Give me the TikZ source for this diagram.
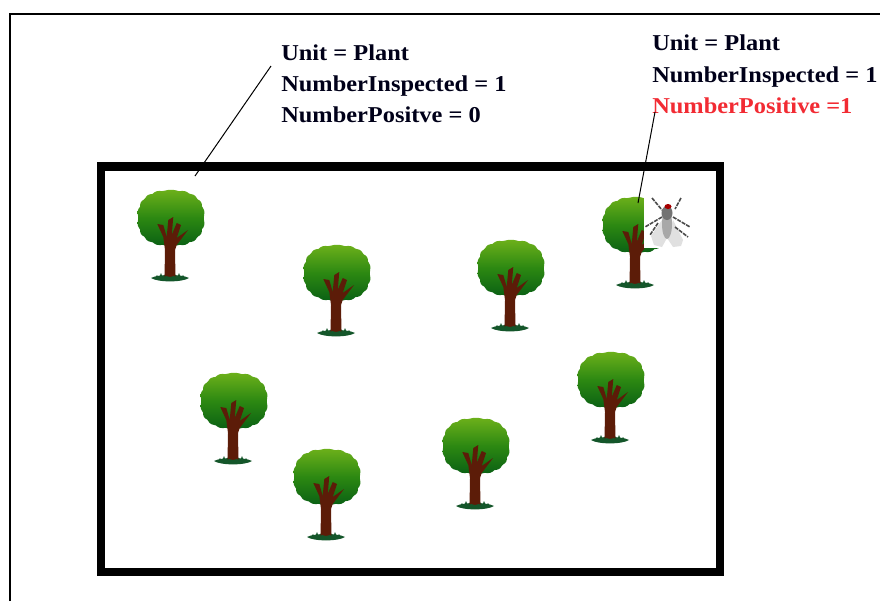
\documentclass[tikz,border=0pt]{standalone}
\usepackage{fontspec}
\setmainfont[FakeStretch=1.076]{Liberation Serif}
\tikzset{
  lbl/.style={anchor=base west,inner sep=0pt,font=\fontsize{17pt}{19pt}\selectfont\bfseries,text=black!90!blue},
  lblred/.style={lbl,text=redtxt},
  leader/.style={draw=black,line width=0.75pt},
  plant/.pic={
    % grass
    \fill[grassgreen] (-19,0) .. controls (-12,-4) and (12,-4) .. (19,0) .. controls (12,4.5) and (-12,4.5) .. (-19,0) -- cycle;
    \foreach \gx/\gh in {-13/3,-9/5,-5/4,5/4,9/5,13/3}{
      \fill[grassgreen] (\gx-2,0) -- (\gx,-\gh) -- (\gx+2,0) -- cycle;}
    % crown
    \path[top color=crowntop,bottom color=crownbot,middle color=crownmid,shading angle=0]
      plot[smooth cycle,samples=80,domain=2:357,variable=\t]
      ({1+(32.5+1.2*abs(sin(9*\t)))*pow(abs(cos(\t))+0.001,0.82)*(cos(\t)<0?-1:1)},
       {-60+(27+1.2*abs(sin(9*\t)))*pow(abs(sin(\t))+0.001,0.82)*(sin(\t)<0?-1:1)});
    % trunk and branches
    \fill[trunkbrown] (-5.5,0) -- (-5,-28) -- (-6.7,-41) -- (-12.7,-54) -- (-6.7,-53) -- (-3.3,-41)
      -- (-1.7,-58) -- (3.3,-61) -- (1.7,-43) -- (6.7,-55) -- (11,-53) -- (6.7,-40)
      -- (18,-48) -- (6.7,-33) -- (5,-28) -- (5.5,0) -- cycle;
    \fill[grassgreen] (-8,1) -- (-4,-2) -- (0,-1) -- (4,-2) -- (8,1) -- (0,3) -- cycle;
  }
}
\definecolor{redtxt}{HTML}{F22B33}
\definecolor{crowntop}{HTML}{6CB01A}
\definecolor{crownmid}{HTML}{2C8812}
\definecolor{crownbot}{HTML}{0A6014}
\definecolor{trunkbrown}{HTML}{5C1C08}
\definecolor{grassgreen}{HTML}{14562A}
\definecolor{flywing}{HTML}{E0E0E0}
\definecolor{flybody}{HTML}{A8A8A8}
\definecolor{flyleg}{HTML}{4A4A4A}
\begin{document}
\begin{tikzpicture}[x=0.75pt,y=-0.75pt]
\useasboundingbox (0,0) rectangle (880,601);
\fill[white] (0,0) rectangle (880,601);
% outer frame
\draw[black,line width=1.5pt] (10,601) -- (10,13.7) -- (880,13.7);
% field
\draw[black,line width=6.4pt] (101,166.5) rectangle (720,572);
% trees
\pic at (170,278) {plant};
\pic at (336,333) {plant};
\pic at (510,328) {plant};
\pic at (635,285) {plant};
\pic at (610,440) {plant};
\pic at (233,461) {plant};
\pic at (326,537) {plant};
\pic at (475,506) {plant};
% fly patch
\fill[white] (644,194) rectangle (696,248);
% fly wings
\fill[flywing] (662,220) -- (651,236) -- (654,245) -- (662,247) -- (667,238) -- cycle;
\fill[flywing] (673,220) -- (683,240) -- (681,246) -- (673,247) -- (667,238) -- cycle;
% fly legs
\foreach \ax/\ay/\bx/\by in {652/198/662/210, 681/198/675/209, 662/217/645/227, 673/217/690/227, 675/227/688/237, 658/223/650/235}{
  \draw[flyleg,line width=1.2pt,dash pattern=on 3pt off 0.8pt] (\ax,\ay) -- (\bx,\by);}
% fly body
\fill[flybody] (667,224) ellipse [x radius=5,y radius=15];
\fill[black!55] (667,213) ellipse [x radius=5.5,y radius=7];
\fill[red!65!black] (668,206.5) ellipse [x radius=3.5,y radius=2.5];
% texts
\node[lbl] (a1) at (281,60) {Unit = Plant};
\node[lbl] (a2) at (281,91) {NumberInspected = 1};
\node[lbl] (a3) at (281,122) {NumberPositve = 0};
\node[lbl] (b1) at (652,50) {Unit = Plant};
\node[lbl] (b2) at (652,82) {NumberInspected = 1};
\node[lblred] (b3) at (652,113) {NumberPositive =1};
% leaders
\coordinate (la) at (271,66);
\coordinate (lb) at (195,176);
\coordinate (ra) at (655,112);
\coordinate (rb) at (638,203);
\draw[leader] (la) -- (lb);
\draw[leader] (ra) -- (rb);
\end{tikzpicture}
\end{document}
